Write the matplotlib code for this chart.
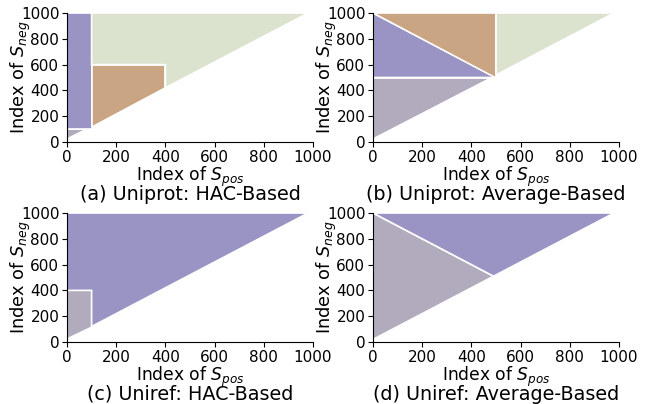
import matplotlib
matplotlib.use("Agg")
import matplotlib.pyplot as plt
from matplotlib.patches import Polygon

# colours
PURPLE = "#9a94c4"
BROWN = "#c9a584"
GREEN = "#dbe3ce"
GREY = "#b2abbe"

# region polygons (x = index of S_pos, y = index of S_neg)
a_grey = [(0, 20), (0, 100), (80, 100)]
a_purple = [(0, 100), (0, 1000), (100, 1000), (100, 100)]
a_brown = [(100, 120), (100, 600), (400, 600), (400, 420)]
a_green = [(100, 600), (100, 1000), (980, 1000), (400, 420), (400, 600)]

b_grey = [(0, 20), (0, 500), (480, 500)]
b_purple = [(0, 500), (0, 1000), (500, 500), (480, 500)]
b_brown = [(0, 1000), (500, 1000), (500, 520), (500, 500)]
b_green = [(500, 520), (500, 1000), (980, 1000)]

c_grey = [(0, 20), (0, 400), (100, 400), (100, 120)]
c_purple = [(0, 400), (0, 1000), (980, 1000), (100, 120), (100, 400)]

d_grey = [(0, 20), (0, 1000), (490, 510)]
d_purple = [(0, 1000), (980, 1000), (490, 510)]

panels = [
    ("(a) Uniprot: HAC-Based", [(a_grey, GREY), (a_purple, PURPLE), (a_brown, BROWN), (a_green, GREEN)]),
    ("(b) Uniprot: Average-Based", [(b_grey, GREY), (b_purple, PURPLE), (b_brown, BROWN), (b_green, GREEN)]),
    ("(c) Uniref: HAC-Based", [(c_grey, GREY), (c_purple, PURPLE)]),
    ("(d) Uniref: Average-Based", [(d_grey, GREY), (d_purple, PURPLE)]),
]

ticks = [0, 200, 400, 600, 800, 1000]

fig = plt.figure(figsize=(6.5, 4.04), dpi=100)
W, H = 650, 404
boxes = [(67, 13), (373, 13), (67, 213), (373, 213)]
aw, ah = 246, 129

for (title, polys), (px, py) in zip(panels, boxes):
    ax = fig.add_axes([px / W, 1 - (py + ah) / H, aw / W, ah / H])
    for verts, col in polys:
        ax.add_patch(Polygon(verts, closed=True, facecolor=col, edgecolor="white", linewidth=1.2))
    ax.set_xlim(0, 1000)
    ax.set_ylim(0, 1000)
    ax.set_xticks(ticks)
    ax.set_yticks(ticks)
    ax.tick_params(labelsize=11, pad=2)
    for s in ["top", "right"]:
        ax.spines[s].set_visible(False)
    ax.set_xlabel(r"Index of $S_{pos}$", fontsize=12.3, labelpad=0)
    ax.set_ylabel(r"Index of $S_{neg}$", fontsize=12.8)
    ax.yaxis.set_label_coords(-0.14, 0.5)
    ax.text(0.5, -0.33, title, transform=ax.transAxes, ha="center", va="top", fontsize=13.8)

fig.savefig("out.png", dpi=100)
